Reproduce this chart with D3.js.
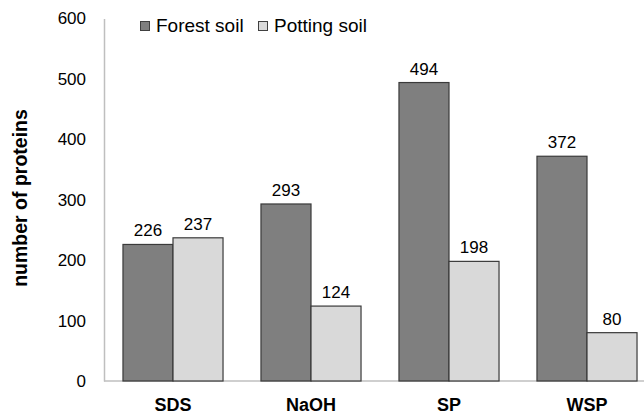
<!DOCTYPE html>
<html>
<head>
<meta charset="utf-8">
<script src="https://cdn.jsdelivr.net/npm/d3@7"></script>
<style>
  body { margin: 0; background: #fff; }
  svg { display: block; font-family: "Liberation Sans", Arial, sans-serif; }
</style>
</head>
<body>
<div id="chart"></div>
<script>
const categories = ["SDS", "NaOH", "SP", "WSP"];
const seriesNames = ["Forest soil", "Potting soil"];
const forestSoil = [226, 293, 494, 372];
const pottingSoil = [237, 124, 198, 80];
const yTicks = [0, 100, 200, 300, 400, 500, 600];

const width = 644, height = 415;
const colors = ["#7f7f7f", "#d9d9d9"];

const svg = d3.select("#chart").append("svg")
  .attr("width", width)
  .attr("height", height);

const x = d3.scaleBand()
  .domain(categories)
  .range([104, 656])
  .paddingInner(0.275)
  .paddingOuter(0.1375);
const x1 = d3.scaleBand()
  .domain(seriesNames)
  .range([0, x.bandwidth()]);
const y = d3.scaleLinear()
  .domain([0, 600])
  .range([381, 18.5]);

// y axis
const yAxis = svg.append("g")
  .attr("transform", "translate(104,0)")
  .call(d3.axisLeft(y).tickValues(yTicks).tickSize(0).tickPadding(18));
yAxis.select(".domain").attr("stroke", "#bfbfbf").attr("stroke-width", 1.5);
yAxis.selectAll("text")
  .style("font-size", "17px")
  .attr("fill", "#000")
  .style("font-family", "Liberation Sans, Arial, sans-serif");

// x axis line
svg.append("line")
  .attr("x1", 104).attr("x2", width)
  .attr("y1", y(0)).attr("y2", y(0))
  .attr("stroke", "#bfbfbf")
  .attr("stroke-width", 1.5);

const data = categories.map((c, i) => ({
  cat: c,
  vals: [forestSoil[i], pottingSoil[i]]
}));

const groups = svg.append("g").selectAll("g")
  .data(data)
  .join("g")
  .attr("transform", d => `translate(${x(d.cat)},0)`);

groups.selectAll("rect")
  .data(d => d.vals.map((v, j) => ({ key: seriesNames[j], v, j })))
  .join("rect")
  .attr("x", d => x1(d.key))
  .attr("y", d => y(d.v))
  .attr("width", x1.bandwidth())
  .attr("height", d => y(0) - y(d.v))
  .attr("fill", d => colors[d.j])
  .attr("stroke", "#3a3a3a")
  .attr("stroke-width", 1.2);

groups.selectAll("text.val")
  .data(d => d.vals.map((v, j) => ({ key: seriesNames[j], v })))
  .join("text")
  .attr("class", "val")
  .attr("x", d => x1(d.key) + x1.bandwidth() / 2)
  .attr("y", d => y(d.v) - 8)
  .attr("text-anchor", "middle")
  .style("font-size", "17px")
  .text(d => d.v);

// category labels
svg.append("g").selectAll("text")
  .data(categories)
  .join("text")
  .attr("x", d => x(d) + x.bandwidth() / 2)
  .attr("y", 411)
  .attr("text-anchor", "middle")
  .style("font-size", "18px")
  .style("font-weight", "bold")
  .text(d => d);

// y title
svg.append("text")
  .attr("transform", "translate(27,198) rotate(-90)")
  .attr("text-anchor", "middle")
  .style("font-size", "19.5px")
  .style("font-weight", "bold")
  .text("number of proteins");

// legend
const legendX = [140, 258];
const legend = svg.append("g").selectAll("g")
  .data(seriesNames)
  .join("g")
  .attr("transform", (d, i) => `translate(${legendX[i]},0)`);
legend.append("rect")
  .attr("x", 0.5).attr("y", 21.5)
  .attr("width", 9).attr("height", 9)
  .attr("fill", (d, i) => colors[i])
  .attr("stroke", "#404040");
legend.append("text")
  .attr("x", 16)
  .attr("y", 32)
  .style("font-size", "19px")
  .text(d => d);
</script>
</body>
</html>
